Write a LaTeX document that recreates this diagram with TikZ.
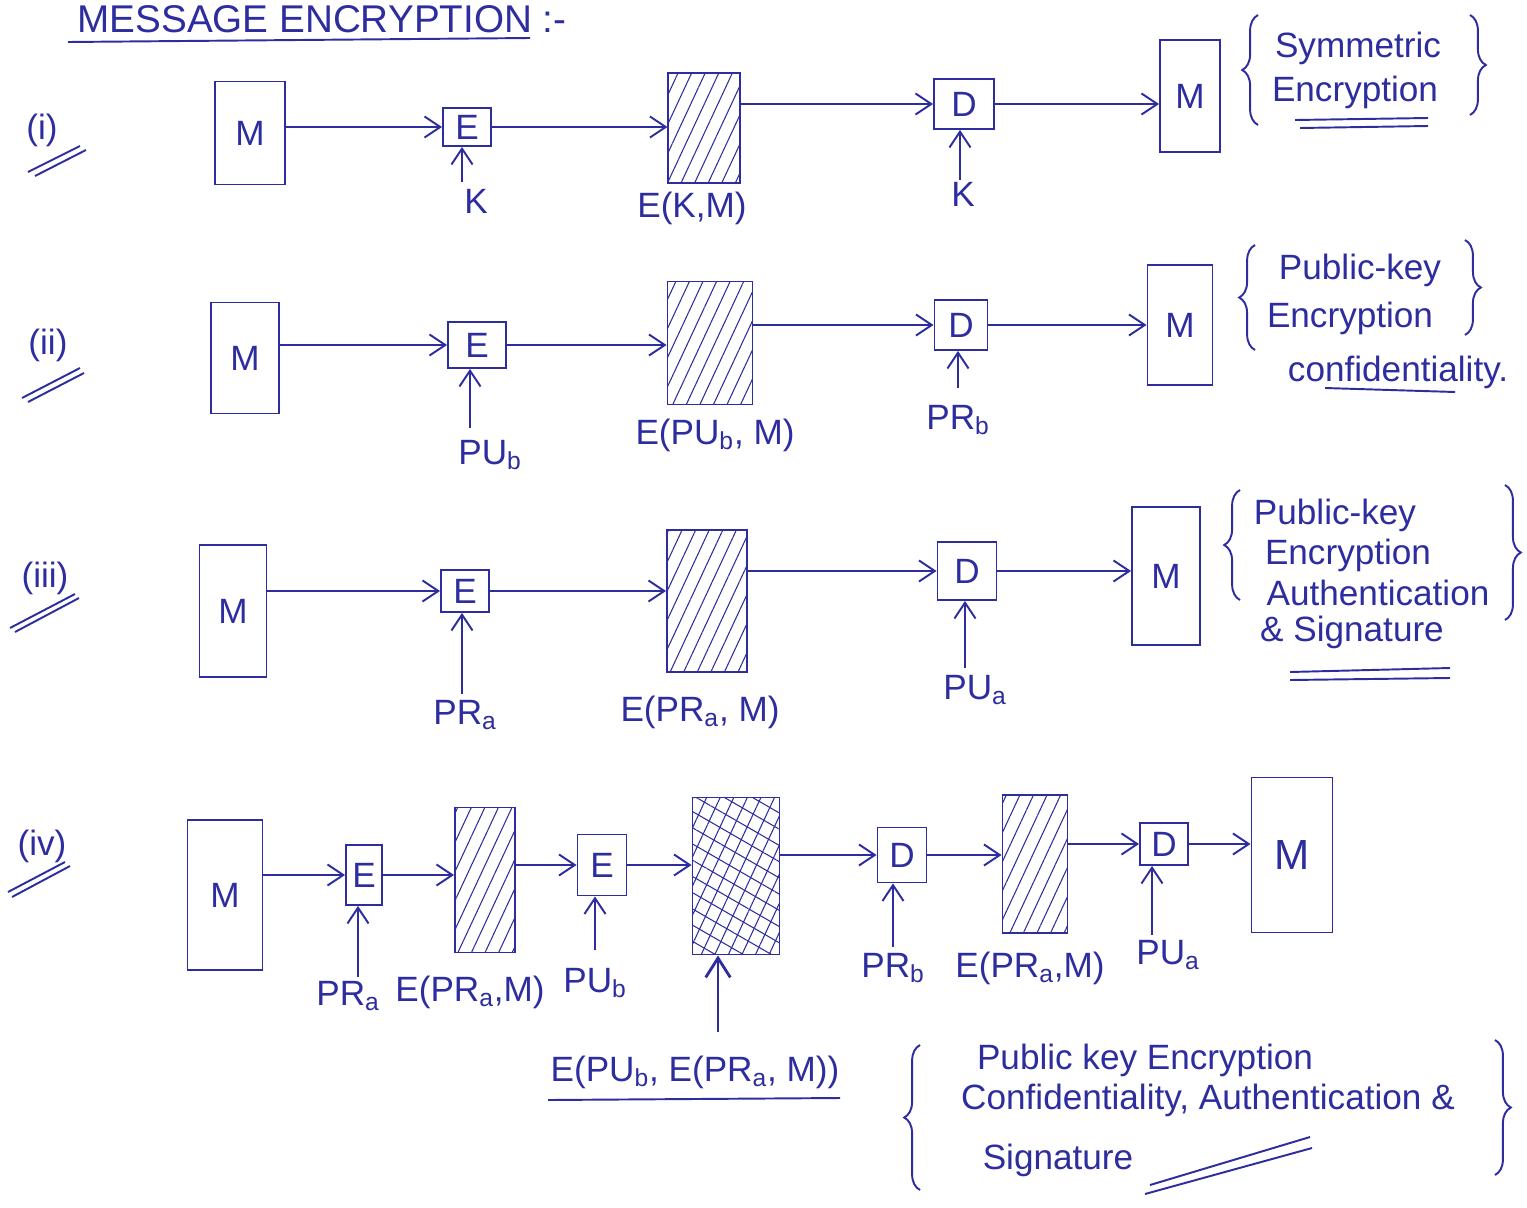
\documentclass[tikz,border=0pt]{standalone}
\usepackage{fontspec}
\setmainfont{Liberation Sans}
\usetikzlibrary{arrows.meta,patterns.meta,decorations.pathreplacing}
\definecolor{ink}{RGB}{45,45,160}
\newcommand{\fsz}{\fontsize{20}{24}\selectfont}
\newcommand{\sub}[1]{\textsubscript{#1}}
\begin{document}
\begin{tikzpicture}[x=0.02cm,y=-0.02cm,
  every node/.style={text=ink,font=\fsz},
  box/.style={draw=ink,line width=1.1pt,inner sep=0pt},
  hatch/.style={box,pattern={Lines[angle=65,distance=7pt,line width=0.6pt]},pattern color=ink},
  xhatch/.style={box,pattern={Lines[angle=65,distance=7pt,line width=0.6pt]},pattern color=ink,
     postaction={pattern={Lines[angle=-30,distance=8pt,line width=0.6pt]},pattern color=ink}},
  arr/.style={draw=ink,line width=1.1pt,-{Straight Barb[length=9pt,width=12pt,line width=1.1pt]}},
  pen/.style={draw=ink,line width=1.1pt},
  lbrace/.style={pen,decorate,decoration={brace,amplitude=9pt}},
]
\useasboundingbox (0,0) rectangle (1527,1207);
\fill[white] (0,0) rectangle (1527,1207);

% title
\node (title) at (322,19) {\fontsize{22}{26}\selectfont MESSAGE ENCRYPTION :-};
\draw[pen] (68,42) -- (530,38);

% row labels
\node (li) at (42,130) {(i)};
\draw[pen] (28,172) -- (80,146); \draw[pen] (35,176) -- (86,150);
\node (lii) at (48,345) {(ii)};
\draw[pen] (22,398) -- (80,368); \draw[pen] (28,402) -- (84,373);
\node (liii) at (45,578) {(iii)};
\draw[pen] (10,628) -- (75,594); \draw[pen] (15,632) -- (79,598);
\node (liv) at (42,846) {(iv)};
\draw[pen] (8,892) -- (65,862); \draw[pen] (12,897) -- (70,866);

% ===== row (i)
\node[box,minimum width=1.40cm,minimum height=2.06cm] (M1) at (250,133) {M};
\node[box,minimum width=0.96cm,minimum height=0.76cm] (E1) at (467,127) {E};
\node[hatch,minimum width=1.44cm,minimum height=2.20cm] (C1) at (704,128) {};
\node[box,minimum width=1.20cm,minimum height=1.00cm] (D1) at (964,104) {D};
\node[box,minimum width=1.20cm,minimum height=2.24cm] (O1) at (1190,96) {M};
\draw[arr] (M1.east |- E1.west) -- (E1.west);
\draw[arr] (E1.east) -- (E1.east -| C1.west);
\draw[arr] (C1.east |- D1.west) -- (D1.west);
\draw[arr] (D1.east) -- (D1.east -| O1.west);
\coordinate (k1) at (462,182);
\draw[arr] (k1) -- (k1 |- E1.south);
\node (k1l) at (476,201) {K};
\coordinate (k2) at (960,180);
\draw[arr] (k2) -- (k2 |- D1.south);
\node (k2l) at (963,194) {K};
\node (c1l) at (692,208) {E(K,M)};

\draw[lbrace] (1258,125) -- (1258,15);
\draw[lbrace] (1470,15) -- (1470,115);
\node (s1a) at (1358,48) {Symmetric};
\node (s1b) at (1355,92) {Encryption};
\draw[pen] (1295,120) -- (1428,118);
\draw[pen] (1300,128) -- (1428,126);

% ===== row (ii)
\node[box,minimum width=1.36cm,minimum height=2.22cm] (M2) at (245,358) {M};
\node[box,minimum width=1.16cm,minimum height=0.92cm] (E2) at (477,345) {E};
\node[hatch,minimum width=1.70cm,minimum height=2.46cm] (C2) at (710,343) {};
\node[box,minimum width=1.06cm,minimum height=1.00cm] (D2) at (961,325) {D};
\node[box,minimum width=1.30cm,minimum height=2.40cm] (O2) at (1180,325) {M};
\draw[arr] (M2.east |- E2.west) -- (E2.west);
\draw[arr] (E2.east) -- (E2.east -| C2.west);
\draw[arr] (C2.east |- D2.west) -- (D2.west);
\draw[arr] (D2.east) -- (D2.east -| O2.west);
\coordinate (k3) at (470,428);
\draw[arr] (k3) -- (k3 |- E2.south);
\node (k3l) at (490,455) {PU\sub{b}};
\coordinate (k4) at (958,388);
\draw[arr] (k4) -- (k4 |- D2.south);
\node (k4l) at (958,420) {PR\sub{b}};
\node (c2l) at (715,435) {E(PU\sub{b}, M)};

\draw[lbrace] (1255,350) -- (1255,245);
\draw[lbrace] (1465,240) -- (1465,335);
\node (s2a) at (1360,270) {Public-key};
\node (s2b) at (1350,318) {Encryption};
\node (s2c) at (1398,372) {confidentiality.};
\draw[pen] (1325,388) -- (1455,392);

% ===== row (iii)
\node[box,minimum width=1.34cm,minimum height=2.64cm] (M3) at (233,611) {M};
\node[box,minimum width=0.96cm,minimum height=0.84cm] (E3) at (465,591) {E};
\node[hatch,minimum width=1.60cm,minimum height=2.84cm] (C3) at (707,601) {};
\node[box,minimum width=1.18cm,minimum height=1.16cm] (D3) at (967,571) {D};
\node[box,minimum width=1.36cm,minimum height=2.76cm] (O3) at (1166,576) {M};
\draw[arr] (M3.east |- E3.west) -- (E3.west);
\draw[arr] (E3.east) -- (E3.east -| C3.west);
\draw[arr] (C3.east |- D3.west) -- (D3.west);
\draw[arr] (D3.east) -- (D3.east -| O3.west);
\coordinate (k5) at (462,694);
\draw[arr] (k5) -- (k5 |- E3.south);
\node (k5l) at (465,715) {PR\sub{a}};
\coordinate (k6) at (965,668);
\draw[arr] (k6) -- (k6 |- D3.south);
\node (k6l) at (975,690) {PU\sub{a}};
\node (c3l) at (700,712) {E(PR\sub{a}, M)};

\draw[lbrace] (1240,600) -- (1240,490);
\draw[lbrace] (1505,485) -- (1505,620);
\node (s3a) at (1335,515) {Public-key};
\node (s3b) at (1348,555) {Encryption};
\node (s3c) at (1378,593) {Authentication};
\node (s3d) at (1352,632) {\& Signature};
\draw[pen] (1290,672) -- (1450,668);
\draw[pen] (1290,680) -- (1450,678);

% ===== row (iv)
\node[box,minimum width=1.50cm,minimum height=3.00cm] (M4) at (225,895) {M};
\node[box,minimum width=0.72cm,minimum height=1.20cm] (E4a) at (364,875) {E};
\node[hatch,minimum width=1.20cm,minimum height=2.90cm] (C4a) at (485,880) {};
\node[box,minimum width=0.98cm,minimum height=1.22cm] (E4b) at (602,865) {E};
\node[xhatch,minimum width=1.74cm,minimum height=3.14cm] (C4b) at (736,876) {};
\node[box,minimum width=0.98cm,minimum height=1.10cm] (D4a) at (902,855) {D};
\node[hatch,minimum width=1.30cm,minimum height=2.76cm] (C4c) at (1035,864) {};
\node[box,minimum width=0.96cm,minimum height=0.84cm] (D4b) at (1164,844) {D};
\node[box,minimum width=1.62cm,minimum height=3.10cm] (O4) at (1292,855) {\fontsize{24}{28}\selectfont M};
\draw[arr] (M4.east |- E4a.west) -- (E4a.west);
\draw[arr] (E4a.east) -- (E4a.east -| C4a.west);
\draw[arr] (C4a.east |- E4b.west) -- (E4b.west);
\draw[arr] (E4b.east) -- (E4b.east -| C4b.west);
\draw[arr] (C4b.east |- D4a.west) -- (D4a.west);
\draw[arr] (D4a.east) -- (D4a.east -| C4c.west);
\draw[arr] (C4c.east |- D4b.west) -- (D4b.west);
\draw[arr] (D4b.east) -- (D4b.east -| O4.west);
\coordinate (k7) at (358,977);
\draw[arr] (k7) -- (k7 |- E4a.south);
\node (k7l) at (348,996) {PR\sub{a}};
\node (c4al) at (470,992) {E(PR\sub{a},M)};
\coordinate (k8) at (595,950);
\draw[arr] (k8) -- (k8 |- E4b.south);
\node (k8l) at (595,983) {PU\sub{b}};
\coordinate (k9) at (718,1032);
\draw[draw=ink,line width=1.6pt,-{Straight Barb[length=11pt,width=14pt,line width=1.6pt]}] (k9) -- (k9 |- C4b.south);
\node (c4bl) at (695,1072) {E(PU\sub{b}, E(PR\sub{a}, M))};
\draw[pen] (548,1100) -- (840,1098);
\coordinate (k10) at (893,947);
\draw[arr] (k10) -- (k10 |- D4a.south);
\node (k10l) at (893,968) {PR\sub{b}};
\node (c4cl) at (1030,968) {E(PR\sub{a},M)};
\coordinate (k11) at (1152,935);
\draw[arr] (k11) -- (k11 |- D4b.south);
\node (k11l) at (1168,955) {PU\sub{a}};

\draw[lbrace] (920,1190) -- (920,1045);
\draw[lbrace] (1495,1040) -- (1495,1175);
\node (s4a) at (1145,1060) {Public key Encryption};
\node (s4b) at (1208,1100) {Confidentiality, Authentication \&};
\node (s4c) at (1058,1160) {Signature};
\draw[pen] (1150,1185) -- (1310,1137);
\draw[pen] (1145,1194) -- (1312,1148);
\end{tikzpicture}
\end{document}
